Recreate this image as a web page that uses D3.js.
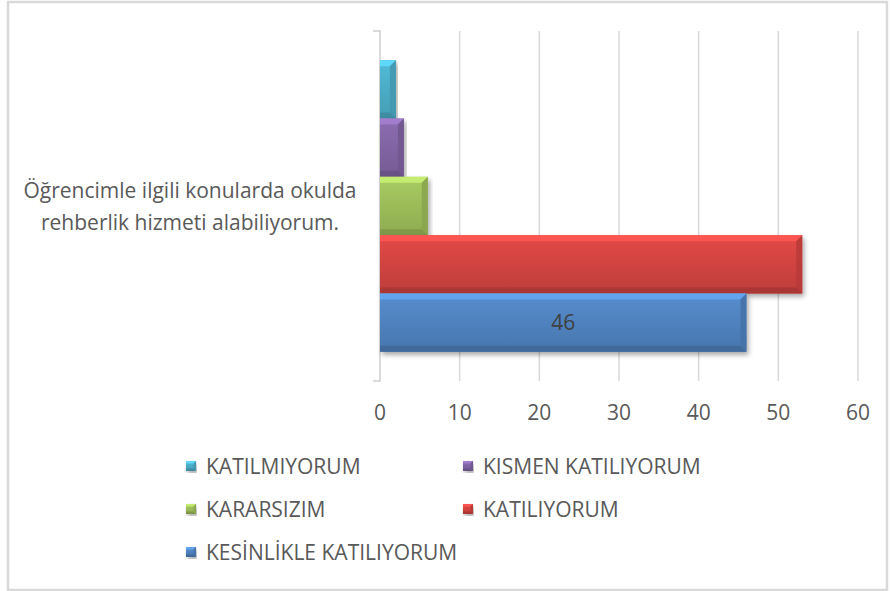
<!DOCTYPE html>
<html lang="tr">
<head>
    <meta charset="UTF-8">
    <title>chart</title>
    <script src="https://cdn.jsdelivr.net/npm/d3@7"></script>
    <style>
        body { margin: 0; background: #fff; }
        text { font-family: "Open Sans", "Liberation Sans", Arial, sans-serif; fill: #595959; }
    </style>
</head>
<body>
<svg id="chart" width="890" height="591"></svg>
<script>
    // data
    var categories = ["Öğrencimle ilgili konularda okulda rehberlik hizmeti alabiliyorum."];
    var categoryLines = ["Öğrencimle ilgili konularda okulda", "rehberlik hizmeti alabiliyorum."];
    var seriesNames = ["KATILMIYORUM", "KISMEN KATILIYORUM", "KARARSIZIM", "KATILIYORUM", "KESİNLİKLE KATILIYORUM"];
    var seriesValues = [2, 3, 6, 53, 46];
    var seriesColors = ["#4bacc6", "#8064a2", "#9bbb59", "#d04340", "#4f81bd"];
    var labelledSeries = ["KESİNLİKLE KATILIYORUM"];
    var xTicks = [0, 10, 20, 30, 40, 50, 60];

    var svg = d3.select("#chart");

    // outer frame
    svg.append("rect")
        .attr("x", 8).attr("y", 2)
        .attr("width", 879).attr("height", 588)
        .attr("fill", "#fff")
        .attr("stroke", "#d9d9d9")
        .attr("stroke-width", 2.5);

    var defs = svg.append("defs");
    var shadow = defs.append("filter").attr("id", "shadow")
        .attr("x", "-5%").attr("y", "-10%").attr("width", "115%").attr("height", "130%");
    shadow.append("feDropShadow")
        .attr("dx", 2).attr("dy", 3).attr("stdDeviation", 2.5)
        .attr("flood-color", "#000").attr("flood-opacity", 0.35);

    seriesColors.forEach(function (c, i) {
        var g = defs.append("linearGradient").attr("id", "grad" + i)
            .attr("x1", 0).attr("y1", 0).attr("x2", 0).attr("y2", 1);
        g.append("stop").attr("offset", "0%").attr("stop-color", d3.color(c).brighter(0.25));
        g.append("stop").attr("offset", "100%").attr("stop-color", d3.color(c).darker(0.25));
    });

    var x = d3.scaleLinear().domain([0, 60]).range([380, 858]);
    var y = d3.scaleBand().domain(categories).range([31, 381]);
    var ySeries = d3.scaleBand().domain(seriesNames)
        .range([0, y.bandwidth()]).paddingOuter(0.5);

    // gridlines
    svg.append("g").selectAll("line")
        .data(xTicks.slice(1))
        .enter().append("line")
        .attr("x1", function (d) { return x(d); })
        .attr("x2", function (d) { return x(d); })
        .attr("y1", 31).attr("y2", 381)
        .attr("stroke", "#d9d9d9")
        .attr("stroke-width", 1.5);

    // category axis with little tick hooks
    var catAxis = svg.append("g").attr("fill", "none").attr("stroke", "#d0d0d0").attr("stroke-width", 1.5);
    catAxis.append("path")
        .attr("d", "M" + (x(0) - 7) + "," + y.range()[0] + "H" + x(0) + "V" + y.range()[1] + "H" + (x(0) - 7));

    // x tick labels
    svg.append("g").selectAll("text")
        .data(xTicks)
        .enter().append("text")
        .attr("x", function (d) { return x(d); })
        .attr("y", 420)
        .attr("text-anchor", "middle")
        .attr("font-size", 21)
        .text(function (d) { return d; });

    // category label
    svg.append("text")
        .attr("text-anchor", "middle")
        .attr("font-size", 21)
        .selectAll("tspan")
        .data(categoryLines)
        .enter().append("tspan")
        .attr("x", 190)
        .attr("y", function (d, i) { return y(categories[0]) + y.bandwidth() / 2 - 8 + i * 32; })
        .text(function (d) { return d; });

    function bevelBar(g, x0, y0, w, h, i, b) {
        var c = d3.color(seriesColors[i]);
        g.append("rect")
            .attr("x", x0).attr("y", y0).attr("width", w).attr("height", h)
            .attr("fill", "url(#grad" + i + ")")
            .attr("filter", "url(#shadow)");
        var x1 = x0 + w, y1 = y0 + h;
        b = Math.min(b, w / 2, h / 2);
        var pts = [
            [[x0, y0], [x1, y0], [x1 - b, y0 + b], [x0, y0 + b], c.brighter(0.7), 0.9],
            [[x0, y1], [x1, y1], [x1 - b, y1 - b], [x0, y1 - b], c.darker(0.6), 0.9],
            [[x1, y0], [x1, y1], [x1 - b, y1 - b], [x1 - b, y0 + b], c.darker(0.35), 0.9]
        ];
        pts.forEach(function (p) {
            g.append("polygon")
                .attr("points", p.slice(0, 4).map(function (q) { return q.join(","); }).join(" "))
                .attr("fill", p[4])
                .attr("fill-opacity", p[5]);
        });
    }

    var bars = svg.append("g");
    seriesNames.forEach(function (s, i) {
        var top = y(categories[0]) + ySeries(s);
        bevelBar(bars, x(0), top, x(seriesValues[i]) - x(0), ySeries.bandwidth(), i, 6);
    });

    // data labels
    svg.append("g").selectAll("text")
        .data(seriesNames.filter(function (s) { return labelledSeries.indexOf(s) >= 0; }))
        .enter().append("text")
        .attr("x", function (s) { return (x(0) + x(seriesValues[seriesNames.indexOf(s)])) / 2; })
        .attr("y", function (s) { return y(categories[0]) + ySeries(s) + ySeries.bandwidth() / 2 + 7; })
        .attr("text-anchor", "middle")
        .attr("font-size", 21)
        .style("fill", "#404040")
        .text(function (s) { return seriesValues[seriesNames.indexOf(s)]; });

    // legend
    var legendPos = [[186, 466], [463, 466], [186, 509], [463, 509], [186, 552]];
    var legend = svg.append("g");
    seriesNames.forEach(function (s, i) {
        var p = legendPos[i];
        bevelBar(legend, p[0], p[1] - 5, 10, 10, i, 2.5);
        legend.append("text")
            .attr("x", p[0] + 20)
            .attr("y", p[1] + 7.5)
            .attr("font-size", 21)
            .text(s);
    });
</script>
</body>
</html>
